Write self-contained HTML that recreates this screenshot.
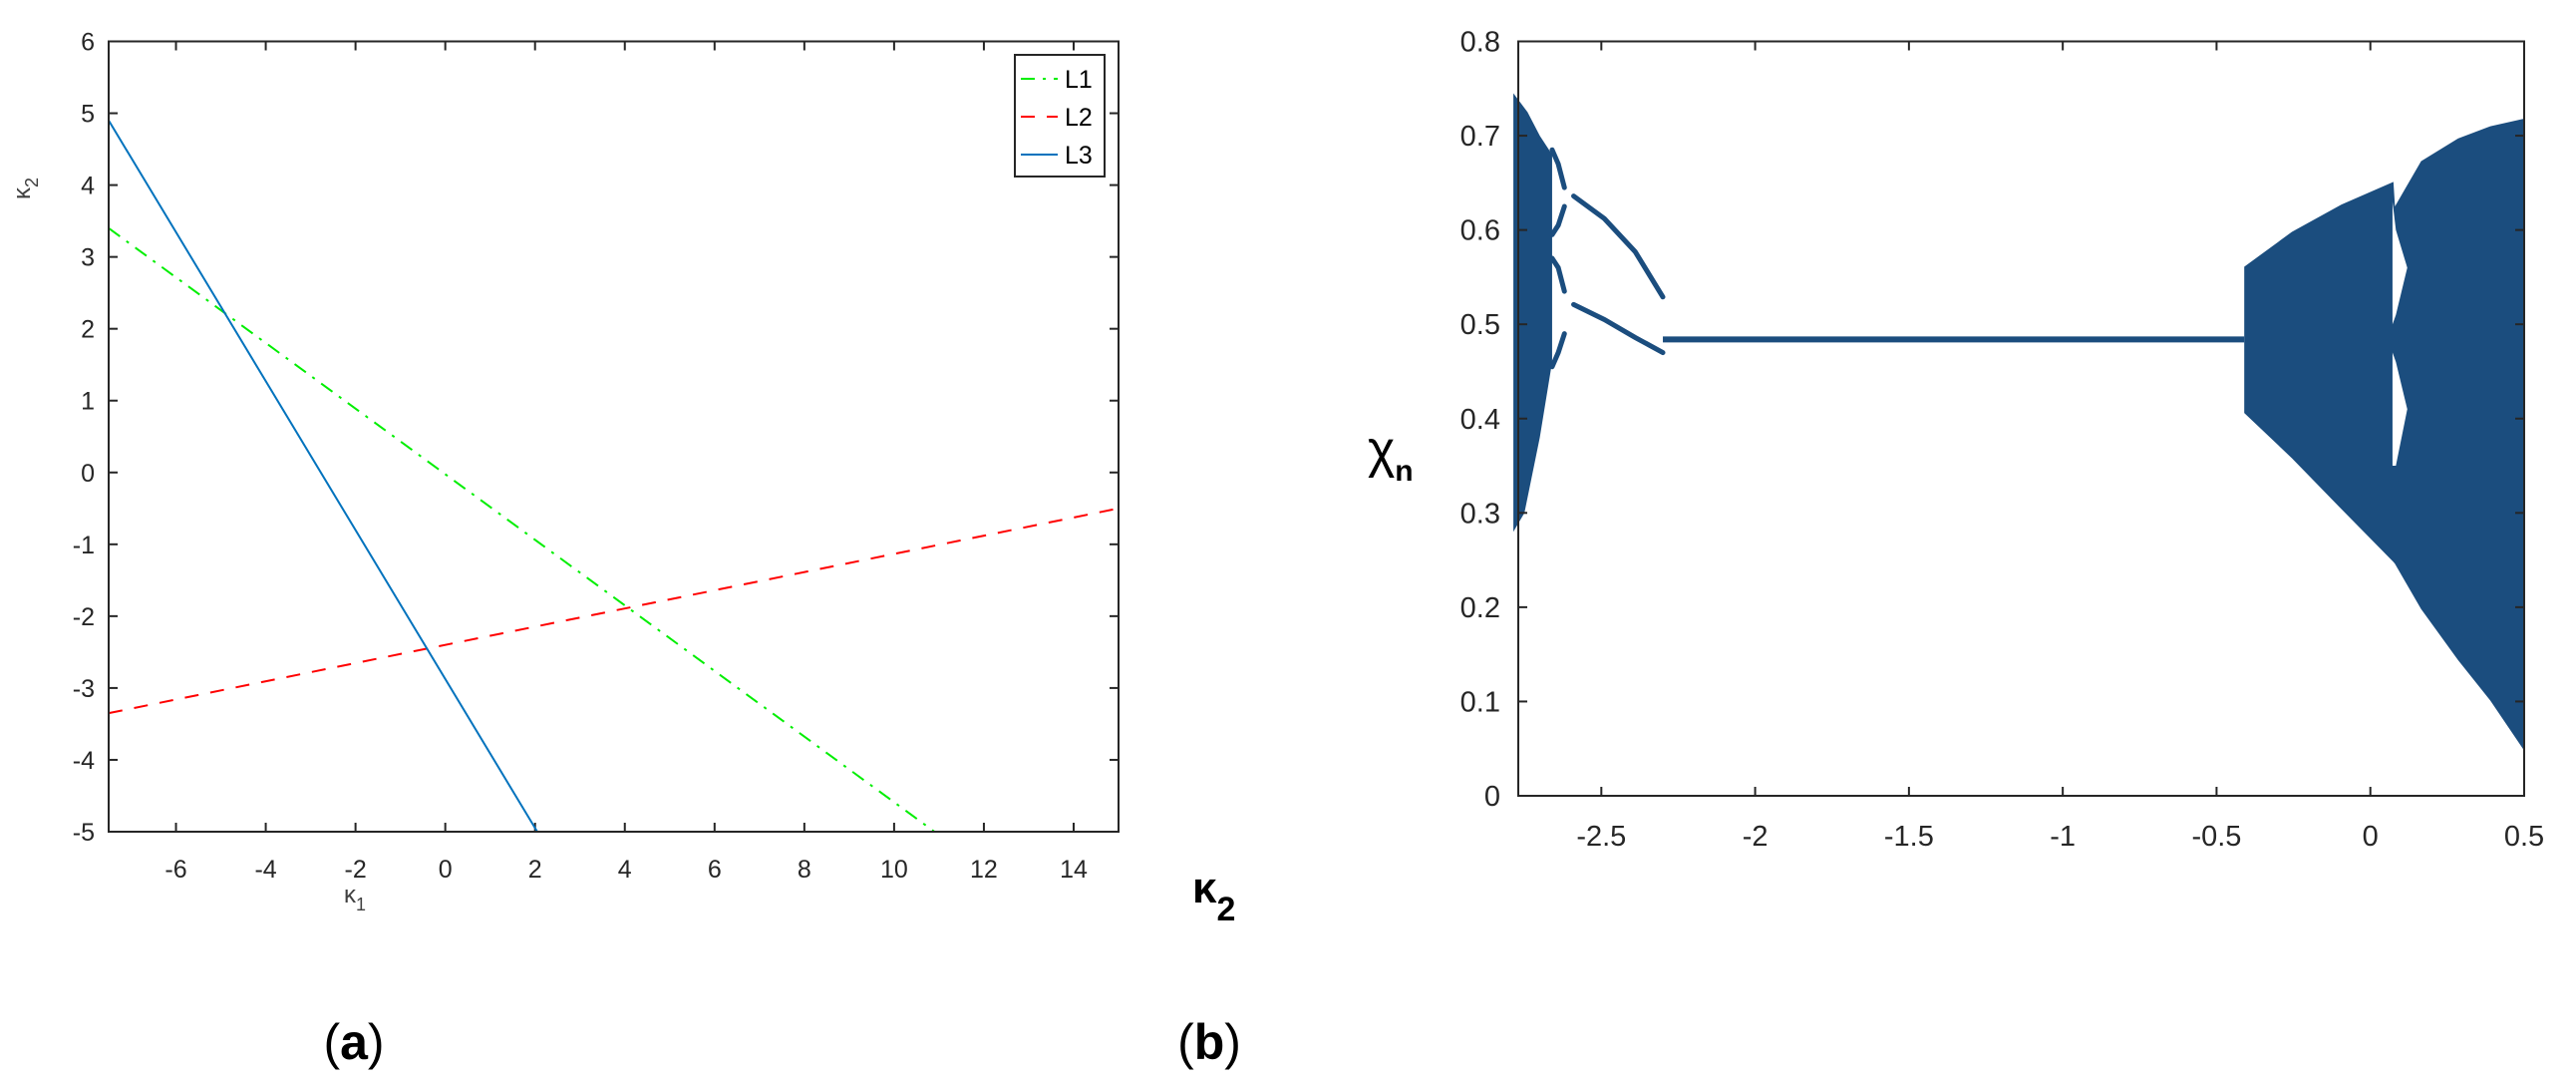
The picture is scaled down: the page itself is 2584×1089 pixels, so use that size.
<!DOCTYPE html>
<html><head><meta charset="utf-8"><style>
body{margin:0;background:#fff}
svg{display:block}
text{font-family:"Liberation Sans",sans-serif}
</style></head><body>
<svg id="fig" width="2584" height="1089" viewBox="0 0 2584 1089">
<g id="left"></g>
<g id="right"></g>
<text x="355" y="1062" font-family="Liberation Serif" font-size="50" text-anchor="middle">(<tspan font-weight="bold">a</tspan>)</text>
<text x="1213" y="1062" font-family="Liberation Serif" font-size="50" text-anchor="middle">(<tspan font-weight="bold">b</tspan>)</text>
</svg>
<script>
// ---- Panel (a) data ----
const aXTicks=[-6,-4,-2,0,2,4,6,8,10,12,14];
const aYTicks=[-5,-4,-3,-2,-1,0,1,2,3,4,5,6];
const seriesNames=["L1","L2","L3"];
const seriesX=[[-7.5,10.9],[-7.5,15],[-7.5,2.05]];
const seriesY=[[3.4,-5],[-3.35,-0.5],[4.9,-5]];
const seriesColors=["#00ee00","#ff0000","#0072bd"];
const seriesDash=["14 8 3 8","14 12",""];
// ---- Panel (b) data ----
const bXTicks=[-2.5,-2,-1.5,-1,-0.5,0,0.5];
const bXTickLabels=["-2.5","-2","-1.5","-1","-0.5","0","0.5"];
const bYTicks=[0,0.1,0.2,0.3,0.4,0.5,0.6,0.7,0.8];
const cloudX=[-2.786,-2.74,-2.70,-2.66,-2.66,-2.70,-2.75,-2.786];
const cloudY=[0.745,0.725,0.70,0.68,0.46,0.38,0.30,0.28];
const branchX=[[-2.66,-2.64,-2.62],[-2.66,-2.64,-2.62],[-2.66,-2.64,-2.62],[-2.66,-2.64,-2.62],[-2.59,-2.49,-2.39,-2.30],[-2.59,-2.49,-2.39,-2.30]];
const branchY=[[0.685,0.67,0.645],[0.595,0.605,0.625],[0.57,0.56,0.535],[0.455,0.47,0.49],[0.636,0.612,0.577,0.529],[0.521,0.505,0.486,0.470]];
const fixedX=[-2.30,-0.41];
const fixedY=[0.484,0.484];
const chaosX=[-0.41,-0.255,-0.094,0.075,0.08,0.165,0.285,0.39,0.5];
const chaosTop=[0.561,0.598,0.627,0.651,0.625,0.673,0.697,0.710,0.718];
const chaosBottom=[0.406,0.358,0.304,0.248,0.246,0.198,0.144,0.101,0.048];
const gapX=[0.072,0.083,0.12,0.083,0.072];
const gapY1=[0.63,0.60,0.56,0.51,0.50];
const gapY2=[0.47,0.46,0.41,0.35,0.35];

const NS="http://www.w3.org/2000/svg";
function mk(parent,tag,attrs){const e=document.createElementNS(NS,tag);for(const k in attrs)e.setAttribute(k,attrs[k]);parent.appendChild(e);return e;}

// ---- Panel (a) ----
const L=document.getElementById('left');
const aL=109,aR=1122,aT=41.5,aB=834,axMin=-7.5,axMax=15,ayMin=-5,ayMax=6;
const ax=v=>aL+(v-axMin)/(axMax-axMin)*(aR-aL);
const ay=v=>aB-(v-ayMin)/(ayMax-ayMin)*(aB-aT);
aXTicks.forEach(t=>{
 const g=mk(L,'g',{});
 
 
 mk(g,'line',{x1:ax(t),x2:ax(t),y1:aB,y2:aB-9,stroke:'#262626','stroke-width':2});
 mk(g,'line',{x1:ax(t),x2:ax(t),y1:aT,y2:aT+9,stroke:'#262626','stroke-width':2});
 const tx=mk(g,'text',{x:ax(t),y:aB+46,'font-size':25,fill:'#262626','text-anchor':'middle'});tx.textContent=t;
});
aYTicks.forEach(t=>{
 const g=mk(L,'g',{});
 
 
 mk(g,'line',{x1:aL,x2:aL+9,y1:ay(t),y2:ay(t),stroke:'#262626','stroke-width':2});
 mk(g,'line',{x1:aR,x2:aR-9,y1:ay(t),y2:ay(t),stroke:'#262626','stroke-width':2});
 const tx=mk(g,'text',{x:aL-14,y:ay(t)+9,'font-size':25,fill:'#262626','text-anchor':'end'});tx.textContent=t;
});
seriesX.forEach((xs,i)=>{
 const p=mk(L,'polyline',{points:xs.map((x,j)=>ax(x)+','+ay(seriesY[i][j])).join(' '),fill:'none',stroke:seriesColors[i],'stroke-width':2,'stroke-dasharray':seriesDash[i]});
 
 
});
const box=mk(L,'rect',{x:aL,y:aT,width:aR-aL,height:aB-aT,fill:'none',stroke:'#262626','stroke-width':2});


const leg=mk(L,'g',{});


mk(leg,'rect',{x:1018,y:55,width:90,height:122,fill:'#fff',stroke:'#262626','stroke-width':2});
seriesNames.forEach((n,i)=>{
 const g=mk(leg,'g',{});
 
 
 const yy=79+i*38;
 mk(g,'line',{x1:1024,x2:1061,y1:yy,y2:yy,stroke:seriesColors[i],'stroke-width':2,'stroke-dasharray':seriesDash[i]});
 const t=mk(g,'text',{x:1068,y:yy+9,'font-size':25,fill:'#000'});t.textContent=n;
});
const xl=mk(L,'text',{x:345,y:905,'font-size':24,fill:'#404040','font-family':'DejaVu Serif'});
xl.innerHTML='κ<tspan font-size="18" dy="8">1</tspan>';


const yl=mk(L,'text',{x:0,y:0,'font-size':24,fill:'#404040','font-family':'DejaVu Serif',transform:'translate(30,200) rotate(-90)'});
yl.innerHTML='κ<tspan font-size="18" dy="8">2</tspan>';



// ---- Panel (b) ----
const R=document.getElementById('right');
const bL=1523,bR=2532,bT=41.5,bB=798,bxMin=-2.77,bxMax=0.5,byMin=0,byMax=0.8;
const bx=v=>bL+(v-bxMin)/(bxMax-bxMin)*(bR-bL);
const by=v=>bB-(v-byMin)/(byMax-byMin)*(bB-bT);
const C='#1b4d7e';
const cl=mk(R,'polygon',{points:cloudX.map((x,i)=>bx(x)+','+by(cloudY[i])).join(' '),fill:C});


branchX.forEach((xs,i)=>{
 const p=mk(R,'polyline',{points:xs.map((x,j)=>bx(x)+','+by(branchY[i][j])).join(' '),fill:'none',stroke:C,'stroke-width':5,'stroke-linecap':'round'});
 
 
});
const fl=mk(R,'polyline',{points:fixedX.map((x,i)=>bx(x)+','+by(fixedY[i])).join(' '),fill:'none',stroke:C,'stroke-width':6});


const chaosTopPts=chaosX.map((x,i)=>bx(x)+','+by(chaosTop[i]));
const chaosBotPts=chaosX.map((x,i)=>bx(x)+','+by(chaosBottom[i])).reverse();
const ch=mk(R,'polygon',{points:chaosTopPts.concat(chaosBotPts).join(' '),fill:C});


[gapY1,gapY2].forEach(gy=>{
 const p=mk(R,'polygon',{points:gapX.map((x,i)=>bx(x)+','+by(gy[i])).join(' '),fill:'#fff'});
 
 
});
bXTicks.forEach((t,i)=>{
 const g=mk(R,'g',{});
 
 
 mk(g,'line',{x1:bx(t),x2:bx(t),y1:bB,y2:bB-9,stroke:'#262626','stroke-width':2});
 mk(g,'line',{x1:bx(t),x2:bx(t),y1:bT,y2:bT+9,stroke:'#262626','stroke-width':2});
 const tx=mk(g,'text',{x:bx(t),y:bB+50,'font-size':29,fill:'#262626','text-anchor':'middle'});tx.textContent=bXTickLabels[i];
});
bYTicks.forEach(t=>{
 const g=mk(R,'g',{});
 
 
 mk(g,'line',{x1:bL,x2:bL+9,y1:by(t),y2:by(t),stroke:'#262626','stroke-width':2});
 mk(g,'line',{x1:bR,x2:bR-9,y1:by(t),y2:by(t),stroke:'#262626','stroke-width':2});
 const tx=mk(g,'text',{x:bL-18,y:by(t)+10,'font-size':29,fill:'#262626','text-anchor':'end'});tx.textContent=(t===0?'0':t.toFixed(1));
});
const bbox=mk(R,'rect',{x:bL,y:bT,width:bR-bL,height:bB-bT,fill:'none',stroke:'#262626','stroke-width':2});


const bxl=mk(R,'text',{x:1196,y:905,'font-size':44,fill:'#000','font-family':'DejaVu Serif','font-weight':'bold'});
bxl.innerHTML='κ<tspan font-size="34" dy="18" font-family="Liberation Sans">2</tspan>';


const byl=mk(R,'text',{x:1372,y:468,'font-size':52,fill:'#000','font-family':'DejaVu Serif'});
byl.innerHTML='χ<tspan font-size="30" dy="14" font-family="Liberation Sans" font-weight="bold">n</tspan>';


</script>
</body></html>
